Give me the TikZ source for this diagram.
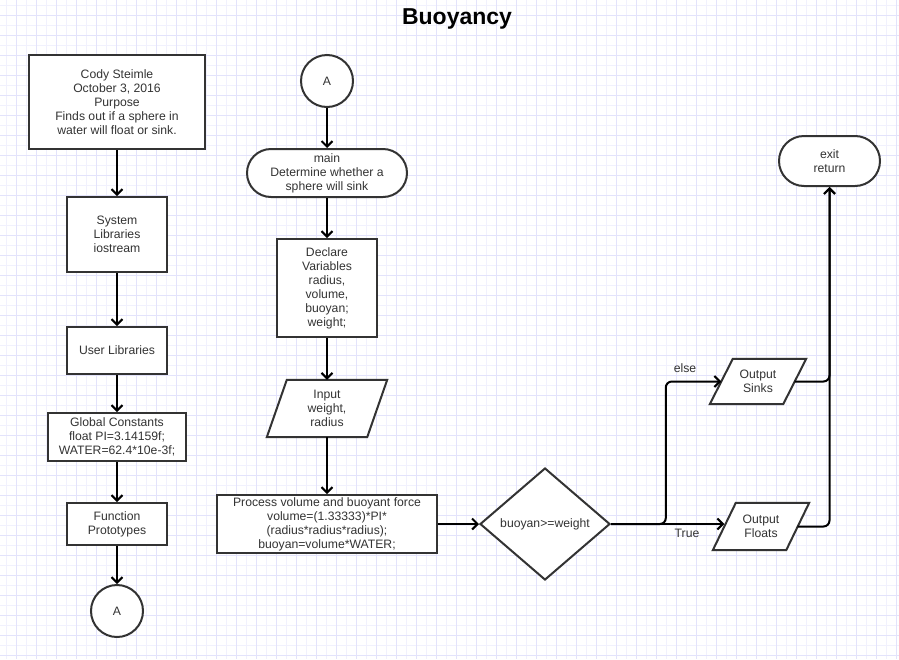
\documentclass[tikz,border=0pt]{standalone}
\usepackage{fontspec}
\setmainfont{Liberation Sans}
\usetikzlibrary{shapes.geometric,arrows.meta,calc}
\definecolor{gridlight}{RGB}{241,241,253}
\definecolor{griddark}{RGB}{227,227,251}
\definecolor{ink}{RGB}{51,51,51}
\pgfdeclarelayer{gridlayer}
\pgfdeclarelayer{paralayer}
\pgfsetlayers{gridlayer,paralayer,main}
\begin{document}
\begin{tikzpicture}[x=1pt,y=-1pt,
  every node/.style={font=\fontsize{12.2}{14}\selectfont, text=ink},
  box/.style={draw=ink, line width=2pt, fill=white, align=center, inner sep=0pt},
  term/.style={box, rounded corners=24pt},
  conn/.style={circle, draw=ink, line width=2pt, fill=white, minimum size=52pt, inner sep=0pt},
  para/.style={align=center, inner sep=0pt},
  shp/.style={draw=ink, line width=2pt, fill=white, line join=miter},
  flow/.style={line width=2pt, draw=black, -{Straight Barb[length=5.5pt,width=11pt]}},
]
\useasboundingbox (0,0) rectangle (899,659);
\begin{pgfonlayer}{gridlayer}
\fill[white] (0,0) rectangle (899,659);
\foreach \i in {0,...,89} \draw[gridlight, line width=1pt] (6+10*\i,0) -- (6+10*\i,659);
\foreach \i in {0,...,65} \draw[gridlight, line width=1pt] (0,5+10*\i) -- (899,5+10*\i);
\foreach \i in {0,...,44} \draw[griddark, line width=1pt] (16+20*\i,0) -- (16+20*\i,659);
\foreach \i in {0,...,32} \draw[griddark, line width=1pt] (0,15+20*\i) -- (899,15+20*\i);
\end{pgfonlayer}

\node[font=\bfseries\fontsize{23}{27}\selectfont, text=black] (title) at (457,19) {Buoyancy};

% left column
\node[box, minimum width=176pt, minimum height=94pt] (cody) at (117,102) {Cody Steimle\\October 3, 2016\\Purpose\\Finds out if a sphere in\\water will float or sink.};
\node[box, minimum width=100pt, minimum height=75pt] (sys) at (117,234.5) {System\\Libraries\\iostream};
\node[box, minimum width=100pt, minimum height=47pt] (usr) at (117,350.5) {User Libraries};
\node[box, minimum width=138pt, minimum height=48pt] (glob) at (117,437) {Global Constants\\float PI=3.14159f;\\WATER=62.4*10e-3f;};
\node[box, minimum width=100pt, minimum height=42pt] (fp) at (117,524) {Function\\Prototypes};
\node[conn] (a1) at (117,611) {A};

% middle column
\node[conn] (a2) at (327,81) {A};
\node[term, minimum width=160pt, minimum height=48pt] (main) at (327,173) {main\\Determine whether a\\sphere will sink};
\node[box, minimum width=100pt, minimum height=98pt] (decl) at (327,288) {Declare\\Variables\\radius,\\volume,\\buoyan;\\weight;};
\node[para, minimum width=100pt, minimum height=57pt] (inp) at (327,408.5) {Input\\weight,\\ radius};
\node[box, minimum width=220pt, minimum height=58pt] (proc) at (327,524) {Process volume and buoyant force\\volume=(1.33333)*PI*\\(radius*radius*radius);\\buoyan=volume*WATER;};
\node[diamond, draw=ink, line width=2pt, fill=white, inner sep=0pt, aspect=1.16, minimum width=130pt, minimum height=112pt] (dec) at (545,524) {buoyan>=weight};

% right column
\node[para, minimum width=73pt, minimum height=45pt] (sink) at (758,381.5) {Output\\Sinks};
\node[para, minimum width=73pt, minimum height=47pt] (flt) at (761,526.5) {Output\\Floats};
\node[term, rounded corners=25pt, minimum width=101pt, minimum height=50pt] (exit) at (829.5,161) {exit\\return};

\begin{pgfonlayer}{paralayer}
\draw[shp] ($(inp.south west)+(-10,0)$) -- ($(inp.north west)+(10,0)$) -- ($(inp.north east)+(10,0)$) -- ($(inp.south east)+(-10,0)$) -- cycle;
\draw[shp] ($(sink.south west)+(-11.5,0)$) -- ($(sink.north west)+(11.5,0)$) -- ($(sink.north east)+(11.5,0)$) -- ($(sink.south east)+(-11.5,0)$) -- cycle;
\draw[shp] ($(flt.south west)+(-11.5,0)$) -- ($(flt.north west)+(11.5,0)$) -- ($(flt.north east)+(11.5,0)$) -- ($(flt.south east)+(-11.5,0)$) -- cycle;
\end{pgfonlayer}

% connectors
\draw[flow] (cody.south) -- (sys.north);
\draw[flow] (sys.south) -- (usr.north);
\draw[flow] (usr.south) -- (glob.north);
\draw[flow] (glob.south) -- (fp.north);
\draw[flow] (fp.south) -- (a1.north);

\draw[flow] (a2.south) -- (main.north);
\draw[flow] (main.south) -- (decl.north);
\draw[flow] (decl.south) -- (inp.north);
\draw[flow] (inp.south) -- (proc.north);
\draw[flow] (proc.east) -- (dec.west);

\draw[flow, rounded corners=6pt] (dec.east) -| ([xshift=-55.5pt]sink.west) -- (sink.west);
\draw[flow] (dec.east) -- (dec.east -| flt.west);
\draw[flow, rounded corners=6pt] (sink.east) -| (exit.south);
\draw[flow, rounded corners=6pt] (flt.east) -| (exit.south);

\node (else) at (685,368) {else};
\node (true) at (687,533) {True};
\end{tikzpicture}
\end{document}
